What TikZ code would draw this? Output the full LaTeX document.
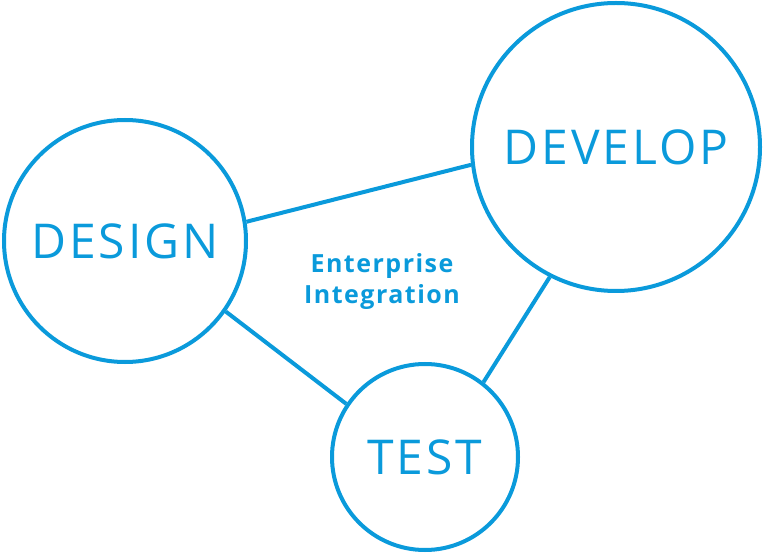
\documentclass[tikz,border=0pt]{standalone}
\usepackage{fontspec}
\setmainfont{Open Sans}
\newfontfamily\spaced[LetterSpace=6]{Open Sans}
\definecolor{ebl}{HTML}{0A9ADB}
\begin{document}
\begin{tikzpicture}[x=1pt,y=-1pt,
  ring/.style={circle,draw=ebl,line width=4pt,inner sep=0pt,text=ebl,font=\spaced\fontsize{48}{48}\selectfont},
  link/.style={draw=ebl,line width=4pt}]
\useasboundingbox (0,0) rectangle (763,553);
\node[ring,minimum size=242pt] (design) at (125,241) {DESIGN};
\node[ring,minimum size=288pt] (develop) at (616,147) {DEVELOP};
\node[ring,minimum size=186pt] (test) at (425,457) {TEST};
\node[text=ebl,font=\spaced\bfseries\fontsize{25}{31}\selectfont,align=center] (ei) at (382,282) {Enterprise\\Integration};
\draw[link] (design.9) -- (develop.187);
\draw[link] (design.-35) -- (test.146);
\draw[link] (develop.243) -- (test.52);
\end{tikzpicture}
\end{document}
